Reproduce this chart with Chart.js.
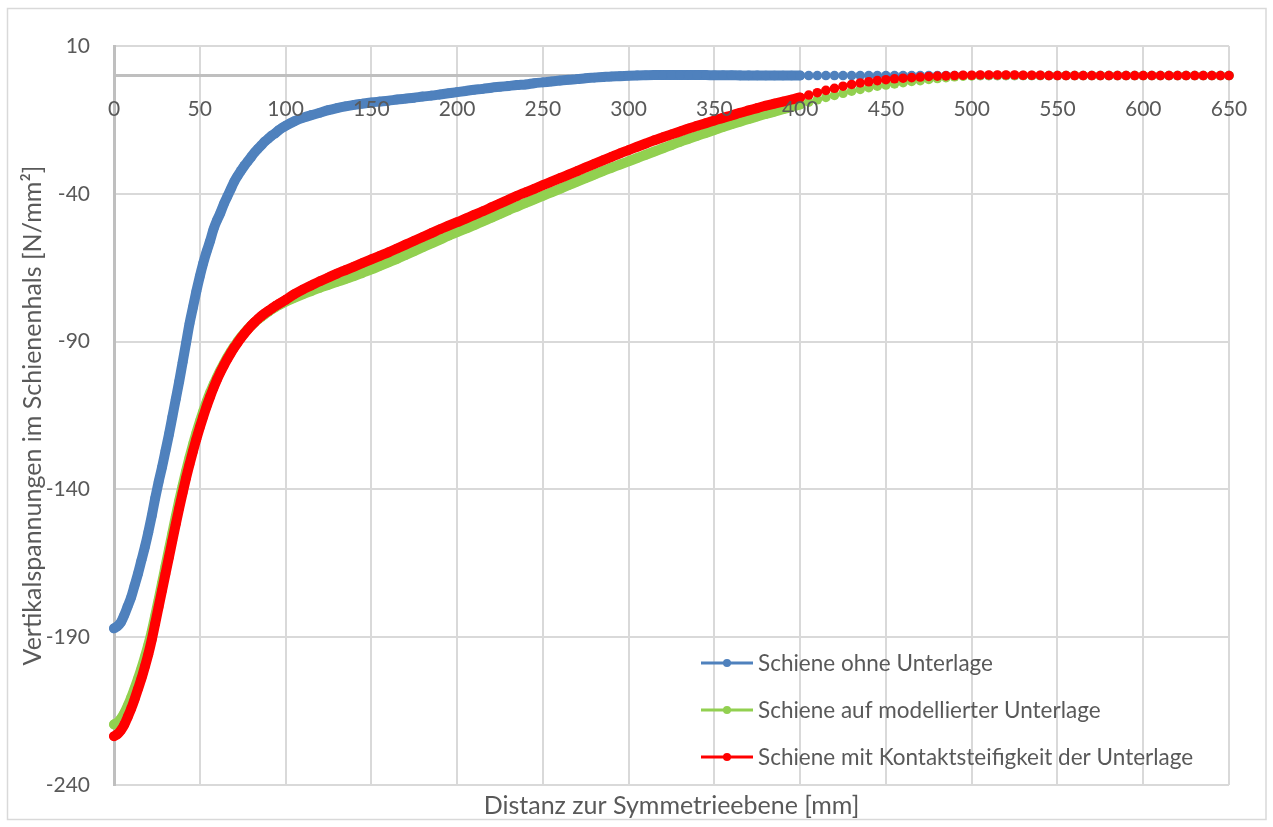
<!DOCTYPE html>
<html lang="de">
<head>
<meta charset="utf-8">
<title>Vertikalspannungen im Schienenhals</title>
<script src="https://cdn.jsdelivr.net/npm/chart.js@4.4.1/dist/chart.umd.min.js"></script>
<style>
  html, body { margin: 0; padding: 0; background: #fff; }
  canvas { display: block; }
</style>
</head>
<body>
<canvas id="chart" width="1273" height="827"></canvas>
<script>
// Knotenabstand zur Symmetrieebene in mm (fein bis 100, dann 5er-Schritte)
const distanz = [
  0, 2, 4, 6, 8, 10, 12, 14, 16, 18, 20, 22, 24, 26, 28, 30, 32, 34, 36, 38,
  40, 42, 44, 46, 48, 50, 52, 54, 56, 58, 60, 62, 64, 66, 68, 70, 72, 74, 76, 78,
  80, 82, 84, 86, 88, 90, 92, 94, 96, 98, 100,
  105, 110, 115, 120, 125, 130, 135, 140, 145, 150, 155, 160, 165, 170, 175, 180, 185, 190, 195, 200,
  205, 210, 215, 220, 225, 230, 235, 240, 245, 250, 255, 260, 265, 270, 275, 280, 285, 290, 295, 300,
  305, 310, 315, 320, 325, 330, 335, 340, 345, 350, 355, 360, 365, 370, 375, 380, 385, 390, 395, 400,
  405, 410, 415, 420, 425, 430, 435, 440, 445, 450, 455, 460, 465, 470, 475, 480, 485, 490, 495, 500,
  505, 510, 515, 520, 525, 530, 535, 540, 545, 550, 555, 560, 565, 570, 575, 580, 585, 590, 595, 600,
  605, 610, 615, 620, 625, 630, 635, 640, 645, 650
];

// Vertikalspannung [N/mm²]
const ohneUnterlage = [
  -187, -186.3, -185, -182.5, -179.5, -176.5, -172.5, -168.5, -164, -159.5,
  -154.5, -149, -143, -137.5, -132.5, -127, -121.5, -115.5, -109.5, -103.5,
  -97, -90.5, -84, -78.5, -73, -68, -63.5, -59.5, -56, -52,
  -49, -46.5, -43.5, -41, -38.5, -36, -34, -32.2, -30.5, -29,
  -27.5, -26, -24.7, -23.5, -22.3, -21.3, -20.3, -19.5, -18.5, -17.7,
  -17,
  -15.5, -14.3, -13.4, -12.6, -11.7, -11.0, -10.4, -9.9, -9.5, -9.1,
  -8.8, -8.5, -8.1, -7.8, -7.5, -7.1, -6.8, -6.4, -6.0, -5.6,
  -5.2, -4.8, -4.5, -4.1, -3.8, -3.5, -3.2, -3.0, -2.6, -2.3,
  -2.0, -1.7, -1.4, -1.2, -0.9, -0.7, -0.5, -0.3, -0.2, -0.05,
  0.05, 0.1, 0.15, 0.2, 0.2, 0.2, 0.2, 0.15, 0.15, 0.1,
  0.1, 0.1, 0.05, 0.05, 0.05, 0, 0, 0, 0, 0,
  0, 0, 0, 0, 0, 0, 0, 0, 0, 0,
  0, 0, 0, 0, 0, 0, 0, 0, 0, 0,
  0, 0, 0, 0, 0, 0, 0, 0, 0, 0,
  0, 0, 0, 0, 0, 0, 0, 0, 0, 0,
  0, 0, 0, 0, 0, 0, 0, 0, 0, 0
];

const modellierteUnterlage = [
  -219.5, -218.9, -217.6, -215.7, -213.2, -210.4, -207.3, -204.0, -200.5, -196.7,
  -192.6, -188.0, -182.8, -177.3, -171.7, -166.0, -160.4, -154.8, -149.2, -143.8,
  -138.7, -133.8, -129.2, -124.9, -120.9, -117.1, -113.6, -110.3, -107.3, -104.6,
  -102.1, -99.7, -97.5, -95.4, -93.5, -91.7, -90.0, -88.5, -87.1, -85.8,
  -84.6, -83.5, -82.5, -81.6, -80.7, -79.9, -79.1, -78.4, -77.7, -77.1,
  -76.5,
  -75.2, -74.0, -72.9, -71.8, -70.8, -69.8, -68.8, -67.8, -66.7, -65.6,
  -64.4, -63.2, -62.0, -60.7, -59.4, -58.1, -56.8, -55.5, -54.2, -53.0,
  -51.8, -50.6, -49.3, -48.1, -46.8, -45.5, -44.3, -43.1, -41.9, -40.7,
  -39.5, -38.3, -37.1, -35.9, -34.7, -33.5, -32.3, -31.2, -30.1, -29.0,
  -27.9, -26.8, -25.7, -24.6, -23.5, -22.4, -21.4, -20.4, -19.4, -18.4,
  -17.4, -16.5, -15.6, -14.7, -13.8, -13.0, -12.2, -11.4, -10.6, -9.8,
  -9.0, -8.2, -7.4, -6.7, -6.0, -5.3, -4.7, -4.1, -3.6, -3.2,
  -2.8, -2.4, -2.0, -1.7, -1.3, -1.0, -0.7, -0.4, -0.2, -0.1,
  0, 0, 0, 0, 0, 0, 0, 0, 0, 0,
  0, 0, 0, 0, 0, 0, 0, 0, 0, 0,
  0, 0, 0, 0, 0, 0, 0, 0, 0, 0
];

const kontaktsteifigkeit = [
  -223.5, -222.8, -221.5, -219.6, -217.0, -214.2, -211.0, -207.5, -204.0, -200.0,
  -195.8, -190.9, -185.4, -179.8, -174.2, -168.6, -163.0, -157.4, -151.8, -146.4,
  -141.2, -136.2, -131.6, -127.2, -123.0, -119.1, -115.4, -111.9, -108.7, -105.7,
  -102.9, -100.4, -98.1, -96.0, -94.0, -92.1, -90.4, -88.8, -87.3, -85.9,
  -84.6, -83.4, -82.3, -81.3, -80.4, -79.6, -78.8, -78.0, -77.3, -76.6,
  -75.9,
  -74.0, -72.4, -71.0, -69.6, -68.3, -67.0, -65.8, -64.6, -63.4, -62.2,
  -61.0, -59.8, -58.5, -57.2, -55.9, -54.6, -53.3, -52.0, -50.8, -49.6,
  -48.4, -47.1, -45.9, -44.6, -43.3, -42.0, -40.7, -39.5, -38.3, -37.1,
  -35.9, -34.7, -33.5, -32.3, -31.1, -29.9, -28.7, -27.5, -26.3, -25.2,
  -24.1, -23.0, -21.9, -20.9, -19.9, -18.9, -17.9, -17.0, -16.1, -15.2,
  -14.3, -13.5, -12.6, -11.8, -11.0, -10.2, -9.5, -8.8, -8.1, -7.4,
  -6.6, -5.8, -5.0, -4.3, -3.6, -3.0, -2.5, -2.1, -1.7, -1.4,
  -1.1, -0.9, -0.7, -0.5, -0.3, -0.2, -0.1, 0, 0.1, 0.1,
  0.2, 0.2, 0.2, 0.2, 0.2, 0.1, 0.1, 0.1, 0, 0,
  0, 0, 0, 0, 0, 0, 0, 0, 0, 0,
  0, 0, 0, 0, 0, 0, 0, 0, 0, 0
];

const xTickValues = [0, 50, 100, 150, 200, 250, 300, 350, 400, 450, 500, 550, 600, 650];
const yTickValues = [10, -40, -90, -140, -190, -240];

const seriesNames = [
  "Schiene ohne Unterlage",
  "Schiene auf modellierter Unterlage",
  "Schiene mit Kontaktsteifigkeit der Unterlage"
];
const seriesColors = ["#4f81bd", "#92d050", "#ff0000"];

const textColor = "#595959";
const fontFamily = "Lato, 'Open Sans', sans-serif";

function toPoints(values) {
  return distanz.map((x, i) => ({ x: x, y: values[i] }));
}

function makeDataset(idx, values) {
  const color = seriesColors[idx];
  return {
    label: seriesNames[idx],
    data: toPoints(values),
    borderColor: color,
    backgroundColor: color,
    pointBackgroundColor: color,
    pointBorderWidth: 0,
    pointRadius: 4.8,
    pointHoverRadius: 4.8,
    borderWidth: 2.5,
    borderCapStyle: "round",
    borderJoinStyle: "round",
    cubicInterpolationMode: "monotone",
    // dichte Knoten bis 400 mm verschmelzen zu einem breiten Band
    segment: {
      borderWidth: ctx => (ctx.p0.parsed.x < 400 ? 10 : 2.5)
    },
    clip: false,
    order: 2 - idx
  };
}

// weisser Hintergrund mit hellgrauem Rahmen
const frame = {
  id: "frame",
  beforeDraw(chart) {
    const ctx = chart.ctx;
    ctx.save();
    ctx.fillStyle = "#ffffff";
    ctx.fillRect(0, 0, chart.width, chart.height);
    ctx.strokeStyle = "#d9d9d9";
    ctx.lineWidth = 1.5;
    ctx.strokeRect(7.5, 8.5, chart.width - 14.5, chart.height - 16);
    ctx.restore();
  }
};

// Legende unten rechts innerhalb der Zeichenfläche
const innerLegend = {
  id: "innerLegend",
  afterDatasetsDraw(chart) {
    const { ctx, chartArea } = chart;
    const x0 = chartArea.right - 528;
    ctx.save();
    ctx.font = "22.5px " + fontFamily;
    ctx.textBaseline = "middle";
    ctx.textAlign = "left";
    chart.data.datasets.forEach((ds, i) => {
      const y = chartArea.bottom - 122 + i * 47;
      ctx.strokeStyle = ds.borderColor;
      ctx.lineWidth = 3;
      ctx.beginPath();
      ctx.moveTo(x0, y);
      ctx.lineTo(x0 + 52, y);
      ctx.stroke();
      ctx.fillStyle = ds.borderColor;
      ctx.beginPath();
      ctx.arc(x0 + 26, y, 4, 0, Math.PI * 2);
      ctx.fill();
      ctx.fillStyle = textColor;
      ctx.fillText(ds.label, x0 + 57, y + 1);
    });
    ctx.restore();
  }
};

Chart.defaults.font.family = fontFamily;
Chart.defaults.color = textColor;

new Chart(document.getElementById("chart"), {
  type: "line",
  data: {
    datasets: [
      makeDataset(0, ohneUnterlage),
      makeDataset(1, modellierteUnterlage),
      makeDataset(2, kontaktsteifigkeit)
    ]
  },
  options: {
    responsive: false,
    animation: false,
    events: [],
    layout: { padding: { top: 46, right: 44, left: 0, bottom: 0 } },
    plugins: {
      legend: { display: false },
      tooltip: { enabled: false }
    },
    scales: {
      x: {
        type: "linear",
        position: { y: 0 },
        min: 0,
        max: 650,
        afterBuildTicks: s => { s.ticks = xTickValues.map(v => ({ value: v })); },
        ticks: { font: { size: 21 }, color: textColor, padding: 21, maxRotation: 0, autoSkip: false, z: 1 },
        grid: { color: "#d9d9d9", lineWidth: 2, drawTicks: false },
        border: { color: "#bfbfbf", width: 3 }
      },
      xTitle: {
        type: "linear",
        axis: "x",
        position: "bottom",
        min: 0,
        max: 650,
        ticks: { display: false },
        grid: { display: false },
        border: { display: false },
        title: {
          display: true,
          text: "Distanz zur Symmetrieebene [mm]",
          font: { size: 25 },
          color: textColor,
          padding: { top: 0, bottom: 6 }
        },
        afterFit: s => { s.height = 42; }
      },
      y: {
        type: "linear",
        position: "left",
        min: -240,
        max: 10,
        afterBuildTicks: s => { s.ticks = yTickValues.map(v => ({ value: v })); },
        ticks: { font: { size: 21 }, color: textColor, padding: 24 },
        grid: { color: "#d9d9d9", lineWidth: 2, drawTicks: false },
        border: { color: "#bfbfbf", width: 3 },
        title: {
          display: true,
          text: "Vertikalspannungen im Schienenhals [N/mm²]",
          font: { size: 25 },
          color: textColor,
          padding: { top: 18, bottom: 0 }
        },
        afterFit: s => { s.width = 114; }
      }
    }
  },
  plugins: [frame, innerLegend]
});
</script>
</body>
</html>
